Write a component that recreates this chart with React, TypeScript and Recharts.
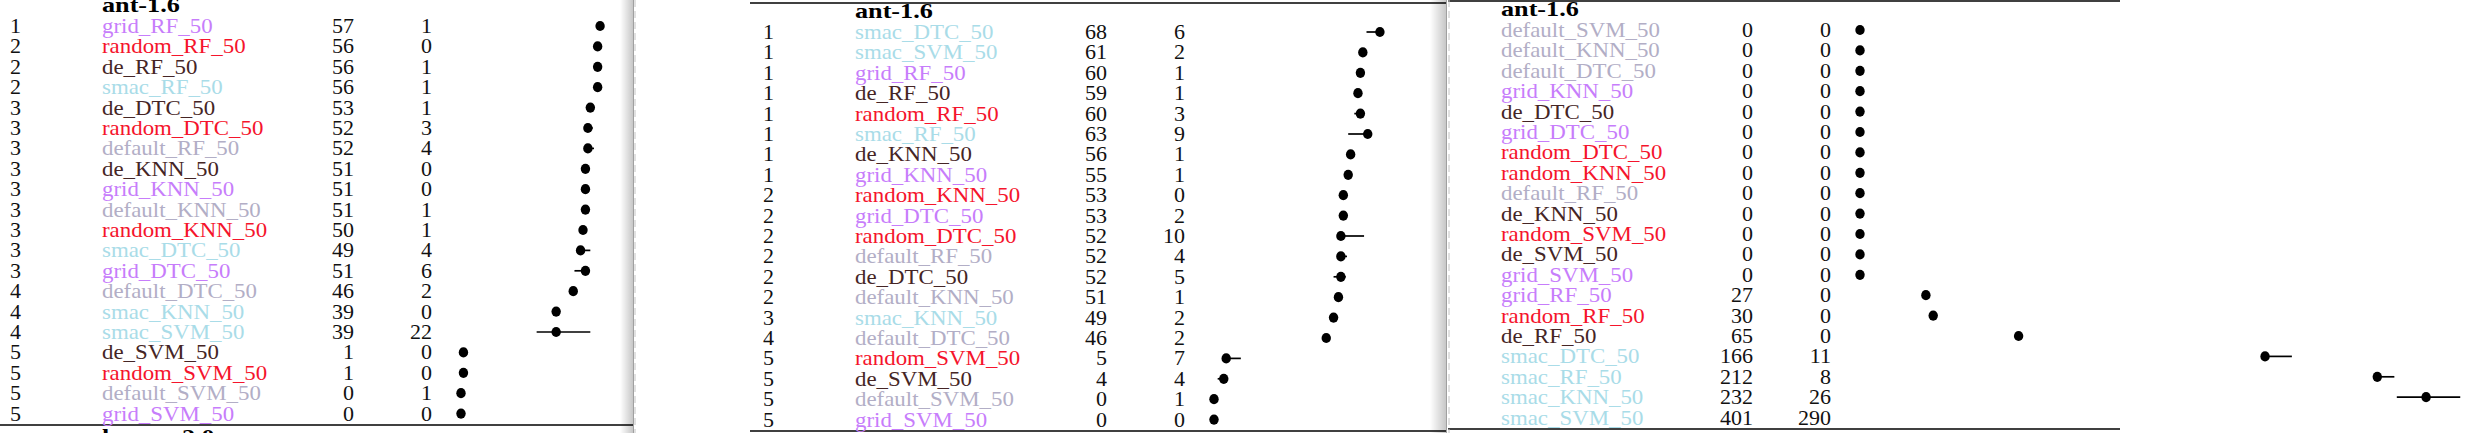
import { ScatterChart, Scatter, XAxis, YAxis, ErrorBar } from 'recharts'

// panel 1
const p1Ranks = [1, 2, 2, 2, 3, 3, 3, 3, 3, 3, 3, 3, 3, 4, 4, 4, 5, 5, 5, 5]
const p1Names = [
  'grid_RF_50', 'random_RF_50', 'de_RF_50', 'smac_RF_50', 'de_DTC_50',
  'random_DTC_50', 'default_RF_50', 'de_KNN_50', 'grid_KNN_50', 'default_KNN_50',
  'random_KNN_50', 'smac_DTC_50', 'grid_DTC_50', 'default_DTC_50', 'smac_KNN_50',
  'smac_SVM_50', 'de_SVM_50', 'random_SVM_50', 'default_SVM_50', 'grid_SVM_50',
]
const p1Medians = [57, 56, 56, 56, 53, 52, 52, 51, 51, 51, 50, 49, 51, 46, 39, 39, 1, 1, 0, 0]
const p1Iqrs = [1, 0, 1, 1, 1, 3, 4, 0, 0, 1, 1, 4, 6, 2, 0, 22, 0, 0, 1, 0]
const p1Low = [56.5, 56, 55.5, 55.5, 52.5, 51, 50.5, 51, 51, 50.5, 49.5, 49, 46.5, 45, 39, 31, 1, 1, 0, 0]
const p1High = [57.5, 56, 56.5, 56.5, 53.5, 54, 54.5, 51, 51, 51.5, 50.5, 53, 52.5, 47, 39, 53, 1, 1, 1, 0]

// panel 2
const p2Ranks = [1, 1, 1, 1, 1, 1, 1, 1, 2, 2, 2, 2, 2, 2, 3, 4, 5, 5, 5, 5]
const p2Names = [
  'smac_DTC_50', 'smac_SVM_50', 'grid_RF_50', 'de_RF_50', 'random_RF_50',
  'smac_RF_50', 'de_KNN_50', 'grid_KNN_50', 'random_KNN_50', 'grid_DTC_50',
  'random_DTC_50', 'default_RF_50', 'de_DTC_50', 'default_KNN_50', 'smac_KNN_50',
  'default_DTC_50', 'random_SVM_50', 'de_SVM_50', 'default_SVM_50', 'grid_SVM_50',
]
const p2Medians = [68, 61, 60, 59, 60, 63, 56, 55, 53, 53, 52, 52, 52, 51, 49, 46, 5, 4, 0, 0]
const p2Iqrs = [6, 2, 1, 1, 3, 9, 1, 1, 0, 2, 10, 4, 5, 1, 2, 2, 7, 4, 1, 0]
const p2Low = [62.5, 60, 59.5, 58.5, 57.5, 55, 55.5, 54.5, 53, 52, 51.5, 50.5, 49, 50.5, 48, 45, 4, 1.5, 0, 0]
const p2High = [68.5, 62, 60.5, 59.5, 60.5, 64, 56.5, 55.5, 53, 54, 61.5, 54.5, 54, 51.5, 50, 47, 11, 5.5, 1, 0]

// panel 3 (rank column is cut off in the picture)
const p3Names = [
  'default_SVM_50', 'default_KNN_50', 'default_DTC_50', 'grid_KNN_50', 'de_DTC_50',
  'grid_DTC_50', 'random_DTC_50', 'random_KNN_50', 'default_RF_50', 'de_KNN_50',
  'random_SVM_50', 'de_SVM_50', 'grid_SVM_50', 'grid_RF_50', 'random_RF_50',
  'de_RF_50', 'smac_DTC_50', 'smac_RF_50', 'smac_KNN_50', 'smac_SVM_50',
]
const p3Medians = [0, 0, 0, 0, 0, 0, 0, 0, 0, 0, 0, 0, 0, 27, 30, 65, 166, 212, 232, 401]
const p3Iqrs = [0, 0, 0, 0, 0, 0, 0, 0, 0, 0, 0, 0, 0, 0, 0, 0, 11, 8, 26, 290]
const p3Low = [0, 0, 0, 0, 0, 0, 0, 0, 0, 0, 0, 0, 0, 27, 30, 65, 166, 211, 220, 270]
const p3High = [0, 0, 0, 0, 0, 0, 0, 0, 0, 0, 0, 0, 0, 27, 30, 65, 177, 219, 246, 560]

const TITLE = 'ant-1.6'
const NEXT_TITLE = 'lucene-2.0'
const ROW_TICKS = [1, 2, 3, 4, 5, 6, 7, 8, 9, 10, 11, 12, 13, 14, 15, 16, 17, 18, 19, 20]

const METHOD_COLORS: Record<string, string> = {
  grid: '#c77dfb',
  random: '#f5142c',
  de: '#452525',
  smac: '#a9dce8',
  default: '#b2aec6',
}

const FONT = '"Liberation Serif", "Times New Roman", serif'
const FONT_SIZE = 22
// LaTeX's fonts run a little wider than Times
const NAME_STRETCH = 1.04
const TITLE_STRETCH = 1.19
const H = 433
const ROW_H = 20.4

// table columns, in chart coords
const RANK_X = 13
const NAME_X = 105
const MED_RIGHT = 357
const IQR_RIGHT = 435
const ZERO_X = 464
const LINE_END = 724
const PX_PER_UNIT = 2.44
const CHART_W = 1100
const X_MIN = -4
const X_MAX = (CHART_W - ZERO_X) / PX_PER_UNIT
const AXIS_W = ZERO_X + X_MIN * PX_PER_UNIT

type Row = {
  row: number
  rank?: number
  name: string
  median: number
  iqr: number
  spread: [number, number]
}

function buildRows(names: string[], medians: number[], iqrs: number[], low: number[], high: number[], ranks?: number[]): Row[] {
  return names.map((name, i) => ({
    row: i + 1,
    rank: ranks ? ranks[i] : undefined,
    name,
    median: medians[i],
    iqr: iqrs[i],
    spread: [medians[i] - low[i], high[i] - medians[i]],
  }))
}

function colorOf(name: string) {
  return METHOD_COLORS[name.split('_')[0]] || '#000'
}

function WideText({ x, y, fill, bold, stretch, children }: { x: number; y: number; fill: string; bold?: boolean; stretch: number; children: any }) {
  return (
    <text
      transform={`translate(${x},${y}) scale(${stretch},1)`}
      fontFamily={FONT}
      fontSize={FONT_SIZE}
      fontWeight={bold ? 'bold' : 'normal'}
      fill={fill}
    >
      {children}
    </text>
  )
}

function RowLabel(props: any) {
  const { y, payload, rows } = props
  const r: Row | undefined = rows[payload.value - 1]
  if (!r) return null
  const base = y + 7
  return (
    <g fontFamily={FONT} fontSize={FONT_SIZE}>
      {r.rank !== undefined && (
        <text x={RANK_X} y={base} fill="#111">{r.rank}</text>
      )}
      <WideText x={NAME_X} y={base} fill={colorOf(r.name)} stretch={NAME_STRETCH}>{r.name}</WideText>
      <text x={MED_RIGHT} y={base} fill="#111" textAnchor="end">{r.median}</text>
      <text x={IQR_RIGHT} y={base} fill="#111" textAnchor="end">{r.iqr}</text>
    </g>
  )
}

const Dot = (props: any) => <ellipse cx={props.cx} cy={props.cy} rx={4.7} ry={5.1} fill="#000" />

function TablePanel({ rows, row1 }: { rows: Row[]; row1: number }) {
  const top = row1 - ROW_H / 2
  const bottom = H - top - ROW_H * 20
  const topLine = row1 - 29
  const bottomLine = row1 + 399
  return (
    <ScatterChart width={CHART_W} height={H} margin={{ top, right: 0, bottom, left: 0 }}>
      <XAxis type="number" dataKey="median" domain={[X_MIN, X_MAX]} allowDataOverflow hide />
      <YAxis
        type="number"
        dataKey="row"
        domain={[0.5, 20.5]}
        reversed
        ticks={ROW_TICKS}
        interval={0}
        width={AXIS_W}
        axisLine={false}
        tickLine={false}
        tick={(p: any) => <RowLabel {...p} rows={rows} />}
      />
      <Scatter data={rows} shape={Dot} isAnimationActive={false}>
        <ErrorBar dataKey="spread" direction="x" width={0} stroke="#000" strokeWidth={1.7} isAnimationActive={false} />
      </Scatter>
      <line x1={0} x2={LINE_END} y1={topLine} y2={topLine} stroke="#000" strokeWidth={1.6} />
      <line x1={0} x2={LINE_END} y1={bottomLine} y2={bottomLine} stroke="#000" strokeWidth={1.6} />
      <WideText x={NAME_X} y={row1 - 14} fill="#000" bold stretch={TITLE_STRETCH}>{TITLE}</WideText>
      <WideText x={NAME_X} y={bottomLine + 19} fill="#000" bold stretch={TITLE_STRETCH}>{NEXT_TITLE}</WideText>
    </ScatterChart>
  )
}

function Window({ left, width, offset, children }: { left: number; width: number; offset: number; children: any }) {
  return (
    <div style={{ position: 'absolute', left, top: 0, width, height: H, overflow: 'hidden' }}>
      <div style={{ position: 'absolute', left: offset, top: 0 }}>{children}</div>
    </div>
  )
}

function Shadow({ left, width }: { left: number; width: number }) {
  return (
    <div
      style={{
        position: 'absolute', left, top: 0, width, height: H,
        background: 'linear-gradient(to right, rgba(0,0,0,0), rgba(0,0,0,0.22))',
        borderRight: '1px solid #a0a0a0',
      }}
    />
  )
}

function Dashed({ x }: { x: number }) {
  return (
    <svg style={{ position: 'absolute', left: x, top: 0 }} width={2} height={H}>
      <line x1={1} x2={1} y1={0} y2={H} stroke="#c4c4c4" strokeWidth={1} strokeDasharray="7 4" />
    </svg>
  )
}

export default function App() {
  const rows1 = buildRows(p1Names, p1Medians, p1Iqrs, p1Low, p1High, p1Ranks)
  const rows2 = buildRows(p2Names, p2Medians, p2Iqrs, p2Low, p2High, p2Ranks)
  const rows3 = buildRows(p3Names, p3Medians, p3Iqrs, p3Low, p3High)
  return (
    <div style={{ position: 'fixed', left: 0, top: 0, width: 2480, height: H, background: '#fff', overflow: 'hidden' }}>
      <Window left={0} width={633} offset={-3}>
        <TablePanel rows={rows1} row1={26} />
      </Window>
      <Window left={636} width={811} offset={114}>
        <TablePanel rows={rows2} row1={32} />
      </Window>
      <Window left={1448} width={1032} offset={-52}>
        <TablePanel rows={rows3} row1={30} />
      </Window>
      <Shadow left={620} width={13} />
      <Shadow left={1430} width={16} />
      <Dashed x={634} />
      <Dashed x={1448} />
    </div>
  )
}
